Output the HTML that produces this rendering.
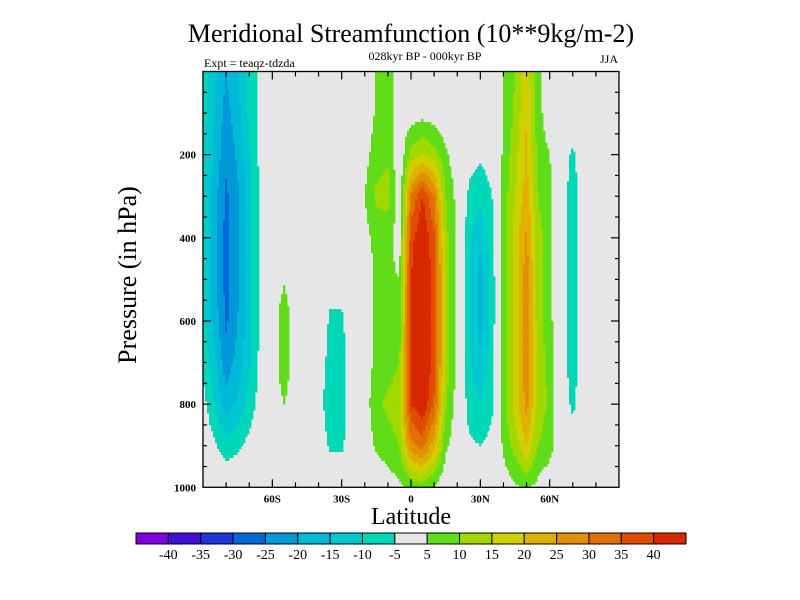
<!DOCTYPE html>
<html><head><meta charset="utf-8"><style>
body{margin:0;background:#fff;}
svg{display:block;font-family:"Liberation Serif",serif;}
</style></head><body>
<svg id="chart" width="800" height="600" viewBox="0 0 800 600">
<rect width="800" height="600" fill="#fff"/>
<text x="411" y="42" font-size="26" text-anchor="middle">Meridional Streamfunction (10**9kg/m-2)</text>
<text x="425" y="60" font-size="12" text-anchor="middle">028kyr BP - 000kyr BP</text>
<text x="204" y="67" font-size="12">Expt = teaqz-tdzda</text>
<text x="618" y="63" font-size="12" text-anchor="end">JJA</text>
<g id="field"></g>
<g id="axes"></g>
<text x="411" y="524" font-size="24" text-anchor="middle">Latitude</text>
<text transform="translate(136,275) rotate(-90)" font-size="26" text-anchor="middle">Pressure (in hPa)</text>
<g id="cbar"></g>
</svg>
<script>
// data grid: latitudes -90..90 step 5, pressure levels 0..1000 step 100
const lats = [-90,-85,-80,-75,-70,-65,-60,-55,-50,-45,-40,-35,-30,-25,-20,-15,-10,-5,0,5,10,15,20,25,30,35,40,45,50,55,60,65,70,75,80,85,90];
const levels = [0,100,200,300,400,500,600,700,800,900,1000];
const values = [
[-8,-8,-9,-9,-9,-9,-8,-6,-3,0,0],
[-14,-15,-16,-18,-18,-18,-17,-14,-10,-4,0],
[-20,-22,-24,-26,-27,-27,-26,-23,-18,-8,0],
[-15,-17,-19,-21,-21,-21,-20,-18,-14,-6,0],
[-8,-9,-11,-12,-12,-12,-12,-11,-8,-3,0],
[-3,-3,-3,-3,-3,-3,-3,-3,-2,0,0],
[0,0,0,0,0,0,0,0,0,0,0],
[0,0,0,0,0,4,10,10,5,0,0],
[0,0,0,0,0,0,0,0,0,0,0],
[0,0,0,0,0,0,0,0,0,0,0],
[0,0,0,0,0,0,0,-2,-3,-1,0],
[0,0,0,0,0,-3,-6,-7,-8,-6,0],
[0,0,0,0,0,-2,-6,-7,-8,-6,0],
[0,0,0,0,0,0,0,0,0,0,0],
[0,0,3,5,3,1,1,1,2,1,0],
[6,6,8,11,7,6,7,7,9,6,0],
[7,7,9,12,7,6,7,8,11,8,2],
[3,3,0,1,2,5,6,10,13,10,4],
[0,2,12,30,38,40,41,41,40,28,6],
[0,3,15,40,45,46,46,46,45,32,8],
[0,2,12,30,36,38,38,38,34,22,4],
[0,0,6,10,12,14,14,13,11,6,0],
[0,0,1,3,3,3,3,3,2,1,0],
[0,0,-3,-6,-9,-10,-10,-9,-7,-4,0],
[0,0,-4,-9,-14,-17,-17,-14,-10,-5,0],
[0,0,-2,-5,-7,-8,-8,-7,-6,-3,0],
[5,5,6,7,8,8,8,8,8,6,2],
[10,11,13,15,17,17,17,17,17,12,4],
[18,20,21,22,26,28,28,28,27,20,6],
[6,7,8,10,12,12,12,13,13,10,3],
[0,1,5,6,7,7,7,8,9,7,1],
[0,0,-2,-3,-3,-3,-3,-3,-2,0,0],
[0,0,-6,-7,-7,-7,-7,-7,-6,-2,0],
[0,0,-1,-2,-2,-2,-2,-2,-1,0,0],
[0,0,0,0,0,0,0,0,0,0,0],
[0,0,0,0,0,0,0,0,0,0,0],
[0,0,0,0,0,0,0,0,0,0,0]
];
const bounds = [-40,-35,-30,-25,-20,-15,-10,-5,5,10,15,20,25,30,35,40];
const colors = ["#8000e0","#4010d8","#2035d8","#0068d8","#0098d8","#00b8d8","#00c8d0","#00d8b8","#e6e6e6","#60dc18","#a0d800","#d0d000","#e0b000","#e09000","#e07000","#e04c00","#d82800"];
const xTicks = [-60,-30,0,30,60];
const xTickLabels = ["60S","30S","0","30N","60N"];
const yTicks = [200,400,600,800,1000];
const yTickLabels = ["200","400","600","800","1000"];

const X0=203,X1=619,Y0=71.5,Y1=487.3;
const NS="http://www.w3.org/2000/svg";
function xs(lat){return X0+(lat+90)/180*(X1-X0);}
function ys(p){return Y0+p/1000*(Y1-Y0);}
function colorFor(v){let i=0;while(i<bounds.length&&v>=bounds[i])i++;return colors[i];}
function mk(tag,attrs,parent){const e=document.createElementNS(NS,tag);for(const k in attrs)e.setAttribute(k,attrs[k]);parent.appendChild(e);return e;}
function sample(lat,p){
  const step=lats[1]-lats[0];
  let i=Math.min(lats.length-2,Math.max(0,Math.floor((lat-lats[0])/step)));
  let j=Math.min(levels.length-2,Math.max(0,Math.floor((p-levels[0])/(levels[1]-levels[0]))));
  const fx=(lat-lats[i])/(lats[i+1]-lats[i]), fy=(p-levels[j])/(levels[j+1]-levels[j]);
  const a=values[i][j],b=values[i+1][j],c=values[i][j+1],d=values[i+1][j+1];
  return a*(1-fx)*(1-fy)+b*fx*(1-fy)+c*(1-fx)*fy+d*fx*fy;
}
const field=document.getElementById('field');
const bg=mk('rect',{x:X0,y:Y0,width:X1-X0,height:Y1-Y0,fill:"#e6e6e6"},field);


const NX=208,NY=140;
for(let r=0;r<NY;r++){
  const p0=r*1000/NY,p1=(r+1)*1000/NY,pm=(p0+p1)/2;
  let runStart=0,runCol=null;
  for(let c=0;c<=NX;c++){
    let col=null;
    if(c<NX){const lat=-90+(c+0.5)*180/NX;col=colorFor(sample(lat,pm));}
    if(col!==runCol){
      if(runCol!==null&&runCol!=="#e6e6e6"){
        const la=-90+runStart*180/NX,lb=-90+c*180/NX;
        const rc=mk('rect',{x:xs(la).toFixed(2),y:ys(p0).toFixed(2),width:(xs(lb)-xs(la)+0.4).toFixed(2),height:(ys(p1)-ys(p0)+0.4).toFixed(2),fill:runCol},field);
        
        
      }
      runCol=col;runStart=c;
    }
  }
}
const axes=document.getElementById('axes');
const frame=mk('rect',{x:X0,y:Y0,width:X1-X0,height:Y1-Y0,fill:"none",stroke:"#000","stroke-width":1.3},axes);


for(let lat=-80;lat<=80;lat+=10){
  const major=lat%30===0, L=major?8:5, x=xs(lat);
  const t1=mk('line',{x1:x,x2:x,y1:Y1,y2:Y1-L,stroke:"#000","stroke-width":1.2},axes);
  
  
  const t2=mk('line',{x1:x,x2:x,y1:Y0,y2:Y0+L,stroke:"#000","stroke-width":1.2},axes);
  
  
}
xTicks.forEach((v,i)=>{
  const t=mk('text',{x:xs(v),y:Y1+15,"font-size":11,"font-weight":"bold","text-anchor":"middle"},axes);
  t.textContent=xTickLabels[i];
  
  
});
for(let p=50;p<1000;p+=50){
  const major=p%200===0,L=major?8:4,y=ys(p);
  const t1=mk('line',{x1:X0,x2:X0+L,y1:y,y2:y,stroke:"#000","stroke-width":1.2},axes);
  
  
  const t2=mk('line',{x1:X1,x2:X1-L,y1:y,y2:y,stroke:"#000","stroke-width":1.2},axes);
  
  
}
yTicks.forEach((v,i)=>{
  const t=mk('text',{x:X0-7,y:ys(v)+4,"font-size":11,"font-weight":"bold","text-anchor":"end"},axes);
  t.textContent=yTickLabels[i];
  
  
});
const cbar=document.getElementById('cbar');
const CX0=136,CX1=686,CY=533,CH=11,bw=(CX1-CX0)/colors.length;
colors.forEach((c,i)=>{
  const r=mk('rect',{x:CX0+i*bw,y:CY,width:bw,height:CH,fill:c,stroke:"#000","stroke-width":1},cbar);
  
  
});
bounds.forEach((b,i)=>{
  const t=mk('text',{x:CX0+(i+1)*bw,y:CY+26,"font-size":14,"text-anchor":"middle"},cbar);
  t.textContent=String(b);
  
  
});
</script>
</body></html>
